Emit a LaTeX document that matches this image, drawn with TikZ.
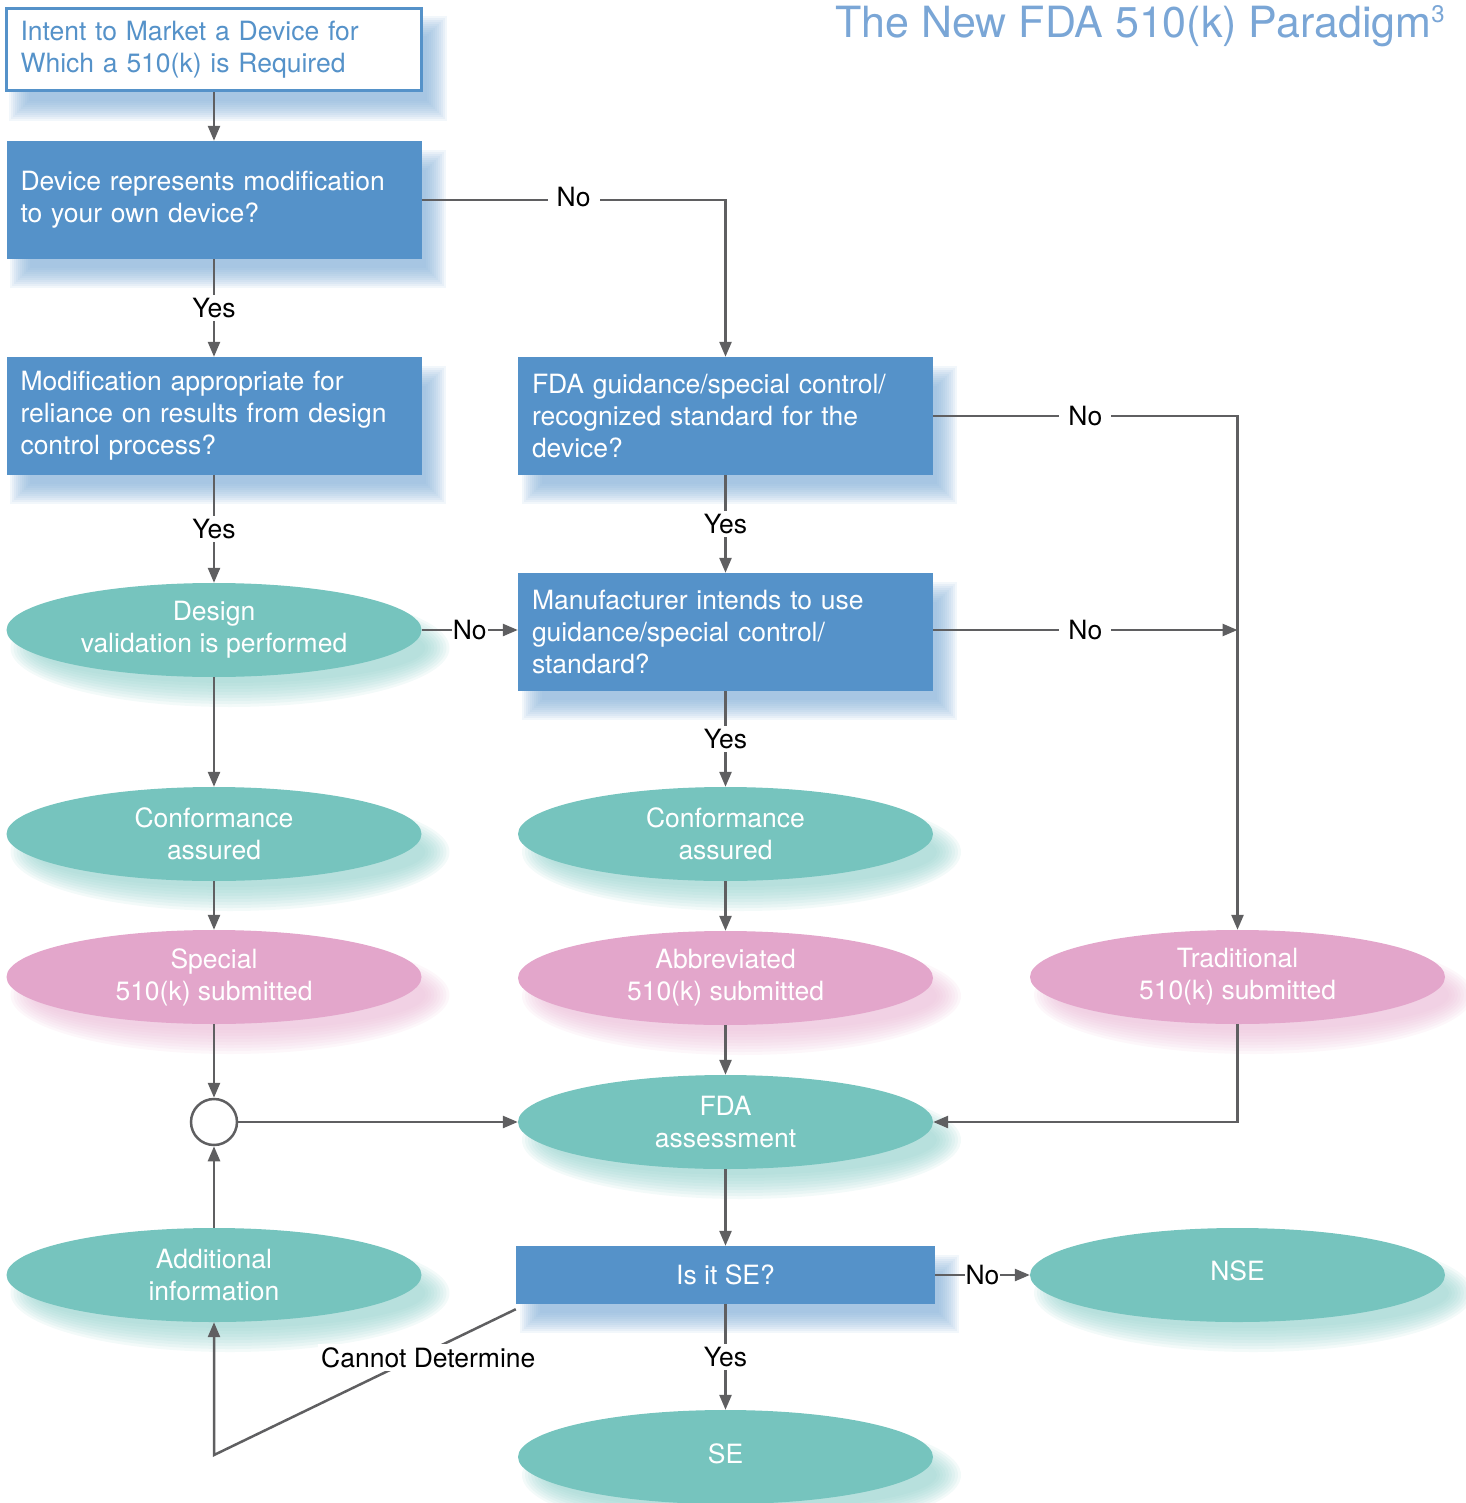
\documentclass[tikz,border=0pt]{standalone}
\usepackage{fontspec}
\setmainfont{TeX Gyre Heros}
\usetikzlibrary{shapes.geometric,arrows.meta,calc}
\definecolor{boxblue}{RGB}{85,146,201}
\definecolor{tealc}{RGB}{118,196,190}
\definecolor{pinkc}{RGB}{227,166,203}
\definecolor{linegray}{RGB}{95,95,97}
\definecolor{titleblue}{RGB}{122,166,214}
\pgfdeclarelayer{bg}
\pgfsetlayers{bg,main}
\newcommand\rectshadow[2]{%
  \foreach \e in {-10,-8,...,10}{%
    \fill[#2,opacity=0.1] ($(#1.north west)+(14-\e,19-\e)$) rectangle ($(#1.south east)+(14+\e,19+\e)$);
  }}
\newcommand\ellshadow[2]{%
  \foreach \e in {-12,-9,...,12}{%
    \fill[#2,opacity=0.11] ($(#1.center)+(16,18)$) ellipse [x radius={207.5pt+\e pt}, y radius={47pt+\e pt}];
  }}
\tikzset{
  txt/.style={font=\fontsize{26.5}{32}\selectfont},
  qbox/.style={txt, rectangle, fill=boxblue, text=white, align=left, text width=387pt,
    minimum width=415pt, minimum height=118pt, inner xsep=14pt, inner ysep=0pt},
  startbox/.style={txt, rectangle, fill=white, draw=boxblue, line width=3pt, text=boxblue, align=left,
    text width=387pt, minimum width=415pt, minimum height=82pt, inner xsep=14pt, inner ysep=0pt},
  tealell/.style={txt, ellipse, fill=tealc, text=white, minimum width=415pt, minimum height=94pt,
    inner sep=0pt, align=center},
  pinkell/.style={tealell, fill=pinkc},
  junction/.style={circle, draw=linegray, fill=white, line width=2.5pt, minimum size=46pt, inner sep=0pt},
  arr/.style={draw=linegray, line width=2.5pt, -{Triangle[length=15pt,width=12pt]}},
  lbl/.style={font=\fontsize{26.5}{30}\selectfont, text=black, fill=white, inner xsep=9pt, inner ysep=3pt},
}
\begin{document}
\begin{tikzpicture}[x=1pt,y=-1pt]
\useasboundingbox (0,0) rectangle (1465,1503);

% title
\node[anchor=base east, text=titleblue, font=\fontsize{43}{50}\selectfont, inner sep=0pt] (title) at (1445,38)
  {The New FDA 510(k) Paradigm\raisebox{15pt}{\fontsize{24}{24}\selectfont 3}};

% nodes
\node[startbox] (b1) at (214,50) {Intent to Market a Device for\\Which a 510(k) is Required};
\node[qbox] (b2) at (214,200) {Device represents modification\\to your own device?};
\node[qbox] (b3) at (214,416) {Modification appropriate for\\reliance on results from design\\control process?};
\node[qbox] (b4) at (725.5,416) {FDA guidance/special control/\\recognized standard for the\\device?};
\node[qbox] (b5) at (725.5,632) {Manufacturer intends to use\\guidance/special control/\\standard?};
\node[tealell] (design) at (214,630) {Design\\validation is performed};
\node[tealell] (confL) at (214,834) {Conformance\\assured};
\node[tealell] (confR) at (725.5,834) {Conformance\\assured};
\node[pinkell] (special) at (214,977) {Special\\510(k) submitted};
\node[pinkell] (abbrev) at (725.5,978) {Abbreviated\\510(k) submitted};
\node[pinkell] (trad) at (1237.5,977) {Traditional\\510(k) submitted};
\node[junction] (junc) at (214,1122) {};
\node[tealell] (fda) at (725.5,1122) {FDA\\assessment};
\node[tealell] (addl) at (214,1275) {Additional\\information};
\node[txt, rectangle, fill=boxblue, text=white, minimum width=419pt, minimum height=58pt, inner sep=0pt] (isse) at (725.5,1275) {Is it SE?};
\node[tealell] (nse) at (1237.5,1275) {\raisebox{8pt}{NSE}};
\node[tealell] (se) at (725.5,1457) {\raisebox{7pt}{SE}};
\coordinate (cdc) at (214,1455);

% shadows
\begin{pgfonlayer}{bg}
  \rectshadow{b1}{boxblue!75}
  \rectshadow{b2}{boxblue!75}
  \rectshadow{b3}{boxblue!75}
  \rectshadow{b4}{boxblue!75}
  \rectshadow{b5}{boxblue!75}
  \rectshadow{isse}{boxblue!75}
  \ellshadow{design}{tealc!80}
  \ellshadow{confL}{tealc!80}
  \ellshadow{confR}{tealc!80}
  \ellshadow{fda}{tealc!80}
  \ellshadow{addl}{tealc!80}
  \ellshadow{nse}{tealc!80}
  \ellshadow{se}{tealc!80}
  \ellshadow{special}{pinkc!80}
  \ellshadow{abbrev}{pinkc!80}
  \ellshadow{trad}{pinkc!80}
\end{pgfonlayer}

% connectors
\draw[arr] (b1) -- (b2);
\draw[arr] (b2.east) -| node[lbl, pos=0.25, yshift=3pt] {No} (b4.north);
\draw[arr] (b2) -- node[lbl] {Yes} (b3);
\draw[arr] (b3) -- node[lbl] {Yes} (design);
\draw[arr] (b4.east) -| node[lbl, pos=0.25] {No} (trad.north);
\draw[arr] (b4) -- node[lbl] {Yes} (b5);
\draw[arr] (design) -- node[lbl, inner xsep=1pt] {No} (design -| b5.west);
\draw[arr] (b5.east |- design) -- node[lbl] {No} (design -| trad.north);
\draw[arr] (b5) -- node[lbl] {Yes} (confR);
\draw[arr] (design) -- (confL);
\draw[arr] (confL) -- (special);
\draw[arr] (confR) -- (abbrev);
\draw[arr] (special) -- (junc);
\draw[arr] (abbrev) -- (fda);
\draw[arr] (trad.south) |- (fda.east);
\draw[arr] (junc) -- (fda);
\draw[arr] (fda) -- (isse);
\draw[arr] (isse) -- node[lbl, inner xsep=1pt] {No} (nse);
\draw[arr] (isse) -- node[lbl] {Yes} (se);
\draw[arr] ([yshift=-5pt]isse.south west) -- node[lbl, pos=0.29, yshift=-6pt, inner sep=3pt] {Cannot Determine} (cdc) -- (addl.south);
\draw[arr] (addl) -- (junc);
\end{tikzpicture}
\end{document}
